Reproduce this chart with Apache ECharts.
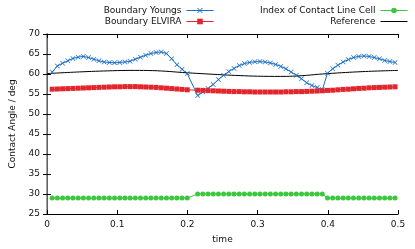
<!DOCTYPE html>
<html>
<head>
<meta charset="utf-8">
<script src="https://cdn.jsdelivr.net/npm/echarts@6/dist/echarts.min.js"></script>
<style>
html,body{margin:0;padding:0;background:#fff;}
#c{width:415px;height:249px;}
</style>
</head>
<body>
<div id="c"></div>
<script>
// time samples (one step near t=0.207 is absent in the data)
var times = [0.0074,0.0148,0.0222,0.0296,0.037,0.0444,0.0518,0.0592,0.0666,0.074,
  0.0814,0.0888,0.0962,0.1036,0.111,0.1184,0.1258,0.1332,0.1406,0.148,
  0.1554,0.1628,0.1702,0.1776,0.185,0.1924,0.1998,
  0.2146,0.222,0.2294,0.2368,0.2442,0.2516,0.259,0.2664,0.2738,0.2812,
  0.2886,0.296,0.3034,0.3108,0.3182,0.3256,0.333,0.3404,0.3478,0.3552,
  0.3626,0.37,0.3774,0.3848,0.3922,0.3996,0.407,0.4144,0.4218,0.4292,
  0.4366,0.444,0.4514,0.4588,0.4662,0.4736,0.481,0.4884,0.4958];
var youngs = [60.5,62.0,62.7,63.3,63.9,64.2,64.4,64.1,63.7,63.3,
  63.0,62.9,62.8,62.9,63.0,63.2,63.7,64.2,64.7,65.1,
  65.4,65.5,65.1,63.8,62.3,61.2,60.1,
  54.6,55.5,56.4,57.4,58.6,59.7,60.6,61.4,62.1,62.6,
  62.9,63.05,63.1,63.0,62.75,62.4,61.9,61.3,60.5,59.7,
  58.8,57.8,57.1,56.6,56.1,60.2,61.3,62.2,63.0,63.6,
  64.1,64.4,64.5,64.4,64.1,63.8,63.4,63.1,62.9];
var elvira = [56.2,56.25,56.3,56.35,56.4,56.45,56.5,56.55,56.6,56.65,
  56.7,56.75,56.8,56.8,56.85,56.85,56.85,56.8,56.75,56.7,
  56.65,56.55,56.45,56.35,56.25,56.15,56.05,
  55.95,55.9,55.85,55.8,55.75,55.7,55.65,55.6,55.6,55.55,
  55.55,55.5,55.5,55.5,55.5,55.5,55.5,55.55,55.55,55.6,
  55.6,55.65,55.7,55.75,55.8,55.9,55.95,56.05,56.15,56.2,
  56.3,56.4,56.45,56.55,56.6,56.65,56.7,56.75,56.8];
var cellIndex = [29,29,29,29,29,29,29,29,29,29,
  29,29,29,29,29,29,29,29,29,29,
  29,29,29,29,29,29,29,
  30,30,30,30,30,30,30,30,30,30,
  30,30,30,30,30,30,30,30,30,30,
  30,30,30,30,30,29,29,29,29,29,
  29,29,29,29,29,29,29,29,29];
var refTimes = [0,0.05,0.1,0.125,0.15,0.2,0.25,0.275,0.3,0.333,0.35,0.4,0.45,0.5];
var refValues = [60.1,60.55,60.85,60.9,60.85,60.3,59.8,59.6,59.45,59.4,59.45,60.1,60.6,60.9];
var xTicks = [0,0.1,0.2,0.3,0.4,0.5];
var yTicks = [25,30,35,40,45,50,55,60,65,70];

var names = ['Boundary Youngs','Boundary ELVIRA','Index of Contact Line Cell','Reference'];
var colors = ['#1a6ec4','#e3262d','#3cc83c','#000000'];
function pairs(xs, ys){ return xs.map(function(x,i){ return [x, ys[i]]; }); }

var FONT = 'DejaVu Sans';
var crossPath = 'path://M0,1L1,0L5,4L9,0L10,1L6,5L10,9L9,10L5,6L1,10L0,9L4,5Z';

function legendFor(name, right, top, hideSymbol){
  var l = {
    data:[name], orient:'vertical', align:'right', right:right, top:top,
    itemWidth:27, itemHeight:7, padding:0,
    textStyle:{fontFamily:FONT, fontSize:9, color:'#111'},
    lineStyle:{width:1},
    selectedMode:false
  };
  if (hideSymbol) { l.itemStyle = {color:'rgba(0,0,0,0)', borderWidth:0, opacity:0}; }
  return l;
}

var chart = echarts.init(document.getElementById('c'), null, {renderer:'canvas'});
chart.setOption({
  animation:false,
  backgroundColor:'#fff',
  color:colors,
  textStyle:{fontFamily:FONT},
  legend:[
    legendFor(names[0], 201, 6),
    legendFor(names[1], 201, 17),
    legendFor(names[2], 7, 6),
    legendFor(names[3], 7, 17, true)
  ],
  grid:{left:44, right:17, top:34, bottom:34, containLabel:false},
  xAxis:[{
    type:'value', min:xTicks[0], max:xTicks[xTicks.length-1], interval:0.1,
    position:'bottom',
    name:'time', nameLocation:'middle', nameGap:21,
    nameTextStyle:{fontFamily:FONT, fontSize:9, color:'#111'},
    axisLine:{show:true, lineStyle:{color:'#000', width:1}},
    axisTick:{show:true, inside:true, length:4, lineStyle:{color:'#000'}},
    axisLabel:{fontFamily:FONT, fontSize:9, color:'#111', margin:6},
    splitLine:{show:false}
  },{
    type:'value', min:xTicks[0], max:xTicks[xTicks.length-1], interval:0.1,
    position:'top',
    axisLine:{show:true, lineStyle:{color:'#000', width:1}},
    axisTick:{show:true, inside:true, length:4, lineStyle:{color:'#000'}},
    axisLabel:{show:false},
    splitLine:{show:false}
  }],
  yAxis:[{
    type:'value', min:yTicks[0], max:yTicks[yTicks.length-1], interval:5,
    position:'left',
    name:'Contact Angle / deg', nameLocation:'middle', nameGap:30,
    nameTextStyle:{fontFamily:FONT, fontSize:9, color:'#111'},
    axisLine:{show:true, lineStyle:{color:'#000', width:1}},
    axisTick:{show:true, inside:true, length:4, lineStyle:{color:'#000'}},
    axisLabel:{fontFamily:FONT, fontSize:9, color:'#111', margin:7},
    splitLine:{show:false}
  },{
    type:'value', min:yTicks[0], max:yTicks[yTicks.length-1], interval:5,
    position:'right',
    axisLine:{show:true, lineStyle:{color:'#808080', width:1.5}},
    axisTick:{show:true, inside:true, length:4, lineStyle:{color:'#000'}},
    axisLabel:{show:false},
    splitLine:{show:false}
  }],
  series:[{
    name:names[0], type:'line', data:pairs(times, youngs),
    symbol:crossPath, symbolSize:5, showAllSymbol:true,
    lineStyle:{width:1, color:colors[0]},
    itemStyle:{color:colors[0]}
  },{
    name:names[1], type:'line', data:pairs(times, elvira),
    symbol:'rect', symbolSize:5, showAllSymbol:true,
    lineStyle:{width:1, color:colors[1]},
    itemStyle:{color:colors[1]}
  },{
    name:names[2], type:'line', data:pairs(times, cellIndex),
    symbol:'circle', symbolSize:5, showAllSymbol:true,
    lineStyle:{width:1, color:colors[2]},
    itemStyle:{color:colors[2]}
  },{
    name:names[3], type:'line', data:pairs(refTimes, refValues),
    symbol:'none', smooth:0.4,
    lineStyle:{width:1, color:colors[3]},
    itemStyle:{color:colors[3]}
  }]
});
</script>
</body>
</html>
